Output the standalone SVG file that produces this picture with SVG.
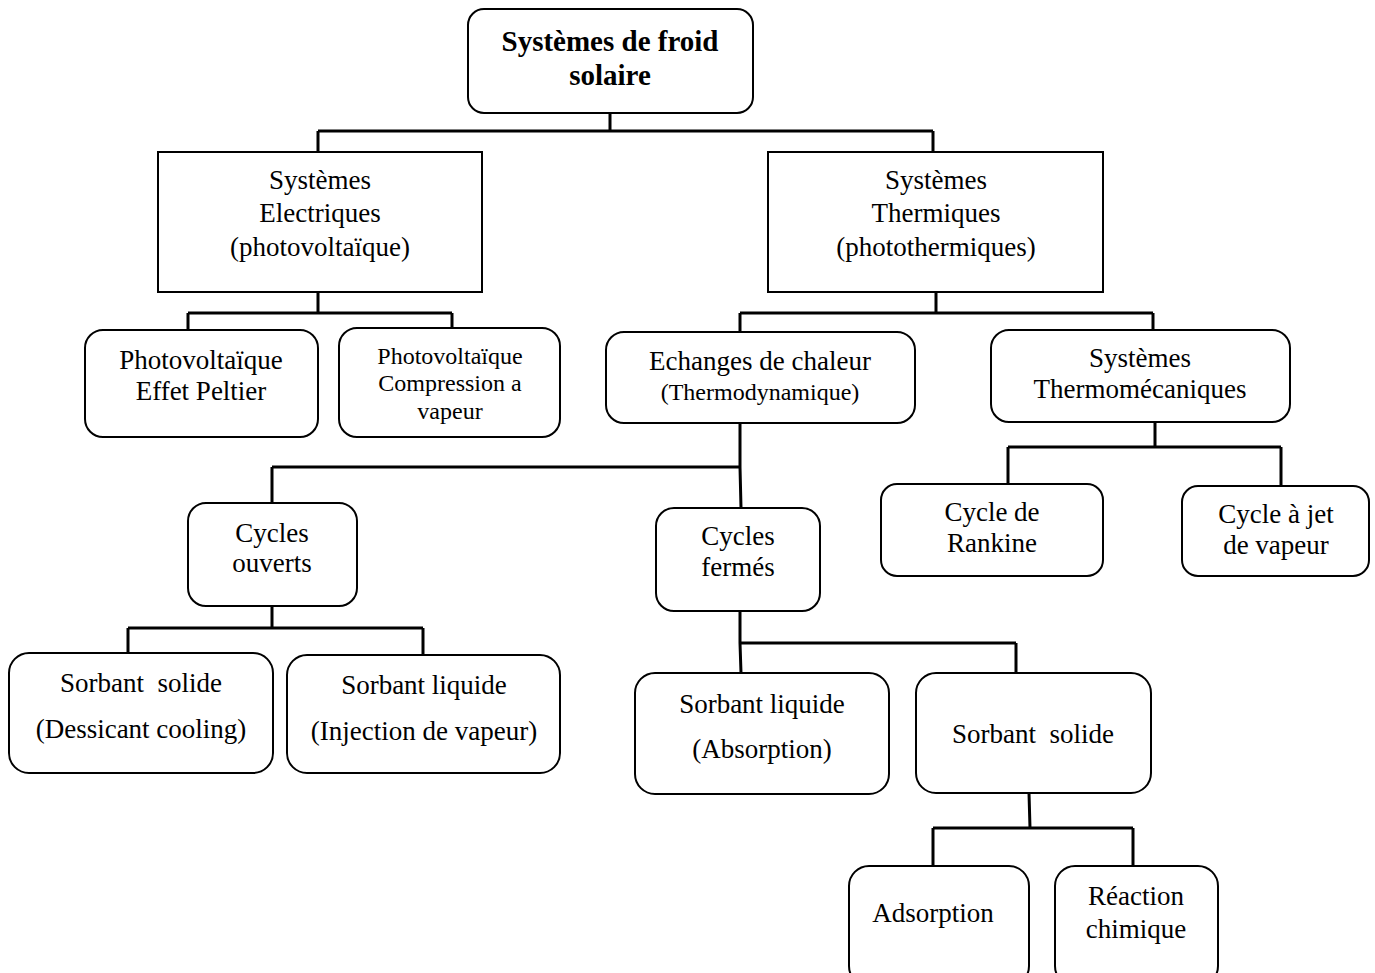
<svg xmlns="http://www.w3.org/2000/svg" width="1375" height="973" viewBox="0 0 1375 973">
<style>
.b{fill:#fff;stroke:#000;stroke-width:2}
.t{font-family:"Liberation Serif","Times New Roman",serif;font-size:27px;fill:#000;text-anchor:middle;white-space:pre}
.s{font-size:24px}
.h{font-weight:bold;font-size:29px}
.c{fill:none;stroke:#000;stroke-width:3}
</style>
<rect width="1375" height="973" fill="#fff"/>
<g id="connectors">
<path class="c" d="M610 113V131M318 131H933M318 131V152M933 131V152"/>
<path class="c" d="M318 292V313M188 313H452M188 313V330M452 313V328"/>
<path class="c" d="M936 292V313M740 313H1153M740 313V332M1153 313V330"/>
<path class="c" d="M740 423V467M272 467H740M272 467V503M740 467L741 508"/>
<path class="c" d="M1155 422V447M1008 447H1281M1008 447V484M1281 447V486"/>
<path class="c" d="M272 606V628M128 628H423M128 628V653M423 628V655"/>
<path class="c" d="M740 611V643M740 643H1016M740 643L741 673M1016 643V673"/>
<path class="c" d="M1029 793L1030 828M933 828H1133M933 828V866M1133 828V866"/>
</g>
<g id="root"><rect class="b" x="468" y="9" width="285" height="104" rx="16"/><text class="t h" x="610" y="51">Systèmes de froid</text><text class="t h" x="610" y="85">solaire</text></g>
<g id="electriques"><rect class="b" x="158" y="152" width="324" height="140"/><text class="t" x="320" y="189">Systèmes</text><text class="t" x="320" y="222">Electriques</text><text class="t" x="320" y="256">(photovoltaïque)</text></g>
<g id="thermiques"><rect class="b" x="768" y="152" width="335" height="140"/><text class="t" x="936" y="189">Systèmes</text><text class="t" x="936" y="222">Thermiques</text><text class="t" x="936" y="256">(photothermiques)</text></g>
<g id="peltier"><rect class="b" x="85" y="330" width="233" height="107" rx="18"/><text class="t" x="201" y="369">Photovoltaïque</text><text class="t" x="201" y="400">Effet Peltier</text></g>
<g id="compression"><rect class="b" x="339" y="328" width="221" height="109" rx="18"/><text class="t s" x="450" y="364">Photovoltaïque</text><text class="t s" x="450" y="391">Compression a</text><text class="t s" x="450" y="419">vapeur</text></g>
<g id="echanges"><rect class="b" x="606" y="332" width="309" height="91" rx="18"/><text class="t" x="760" y="370">Echanges de chaleur</text><text class="t s" x="760" y="400">(Thermodynamique)</text></g>
<g id="thermomecaniques"><rect class="b" x="991" y="330" width="299" height="92" rx="18"/><text class="t" x="1140" y="367">Systèmes</text><text class="t" x="1140" y="398">Thermomécaniques</text></g>
<g id="rankine"><rect class="b" x="881" y="484" width="222" height="92" rx="16"/><text class="t" x="992" y="521">Cycle de</text><text class="t" x="992" y="552">Rankine</text></g>
<g id="jet"><rect class="b" x="1182" y="486" width="187" height="90" rx="16"/><text class="t" x="1276" y="523">Cycle à jet</text><text class="t" x="1276" y="554">de vapeur</text></g>
<g id="ouverts"><rect class="b" x="188" y="503" width="169" height="103" rx="18"/><text class="t" x="272" y="542">Cycles</text><text class="t" x="272" y="572">ouverts</text></g>
<g id="fermes"><rect class="b" x="656" y="508" width="164" height="103" rx="18"/><text class="t" x="738" y="545">Cycles</text><text class="t" x="738" y="576">fermés</text></g>
<g id="dessicant"><rect class="b" x="9" y="653" width="264" height="120" rx="20"/><text class="t" x="141" y="692">Sorbant  solide</text><text class="t" x="141" y="738">(Dessicant cooling)</text></g>
<g id="injection"><rect class="b" x="287" y="655" width="273" height="118" rx="20"/><text class="t" x="424" y="694">Sorbant liquide</text><text class="t" x="424" y="740">(Injection de vapeur)</text></g>
<g id="absorption"><rect class="b" x="635" y="673" width="254" height="121" rx="20"/><text class="t" x="762" y="713">Sorbant liquide</text><text class="t" x="762" y="758">(Absorption)</text></g>
<g id="solide"><rect class="b" x="916" y="673" width="235" height="120" rx="20"/><text class="t" x="1033" y="743">Sorbant  solide</text></g>
<g id="adsorption"><rect class="b" x="849" y="866" width="180" height="120" rx="20"/><text class="t" x="933" y="922">Adsorption</text></g>
<g id="reaction"><rect class="b" x="1055" y="866" width="163" height="120" rx="20"/><text class="t" x="1136" y="905">Réaction</text><text class="t" x="1136" y="938">chimique</text></g>
</svg>
